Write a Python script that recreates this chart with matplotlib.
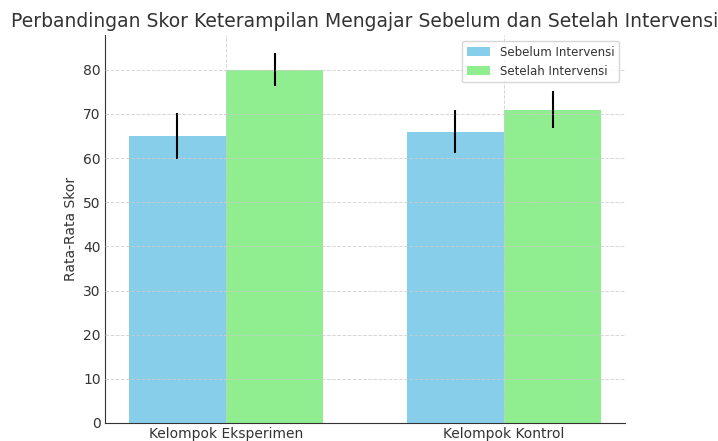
import matplotlib
matplotlib.use("Agg")
import matplotlib.pyplot as plt
import numpy as np

groups = ["Kelompok Eksperimen", "Kelompok Kontrol"]
before = [65, 66]
after = [80, 71]
before_err = [5.2, 4.8]
after_err = [3.7, 4.1]
series_labels = ["Sebelum Intervensi", "Setelah Intervensi"]

fig = plt.figure(figsize=(7.18, 4.41), dpi=100)
ax = fig.add_axes([105/718, 1-423/441, 520/718, 388/441])

x = np.arange(len(groups))
w = 0.35
ax.bar(x - w/2, before, w, yerr=before_err, color="skyblue", label=series_labels[0],
       error_kw=dict(ecolor="black", elinewidth=1.5, capsize=0))
ax.bar(x + w/2, after, w, yerr=after_err, color="lightgreen", label=series_labels[1],
       error_kw=dict(ecolor="black", elinewidth=1.5, capsize=0))

ax.set_xticks(x)
ax.set_xticklabels(groups, fontsize=10, color="#333333")
ax.tick_params(axis="both", labelsize=10, labelcolor="#333333", length=0, pad=3)
ax.set_ylabel("Rata-Rata Skor", fontsize=10, color="#333333", labelpad=4)
ax.set_title("Perbandingan Skor Keterampilan Mengajar Sebelum dan Setelah Intervensi",
             fontsize=13.5, color="#333333", pad=6)
ax.set_axisbelow(False)
ax.grid(True, linestyle="--", color="#cccccc", linewidth=0.7, alpha=0.8)
for s in ["top", "right"]:
    ax.spines[s].set_visible(False)
for s in ["left", "bottom"]:
    ax.spines[s].set_color("#333333")
ax.legend(loc="upper right", fontsize=8.5, labelcolor="#333333")

fig.savefig("out.png", dpi=100)
